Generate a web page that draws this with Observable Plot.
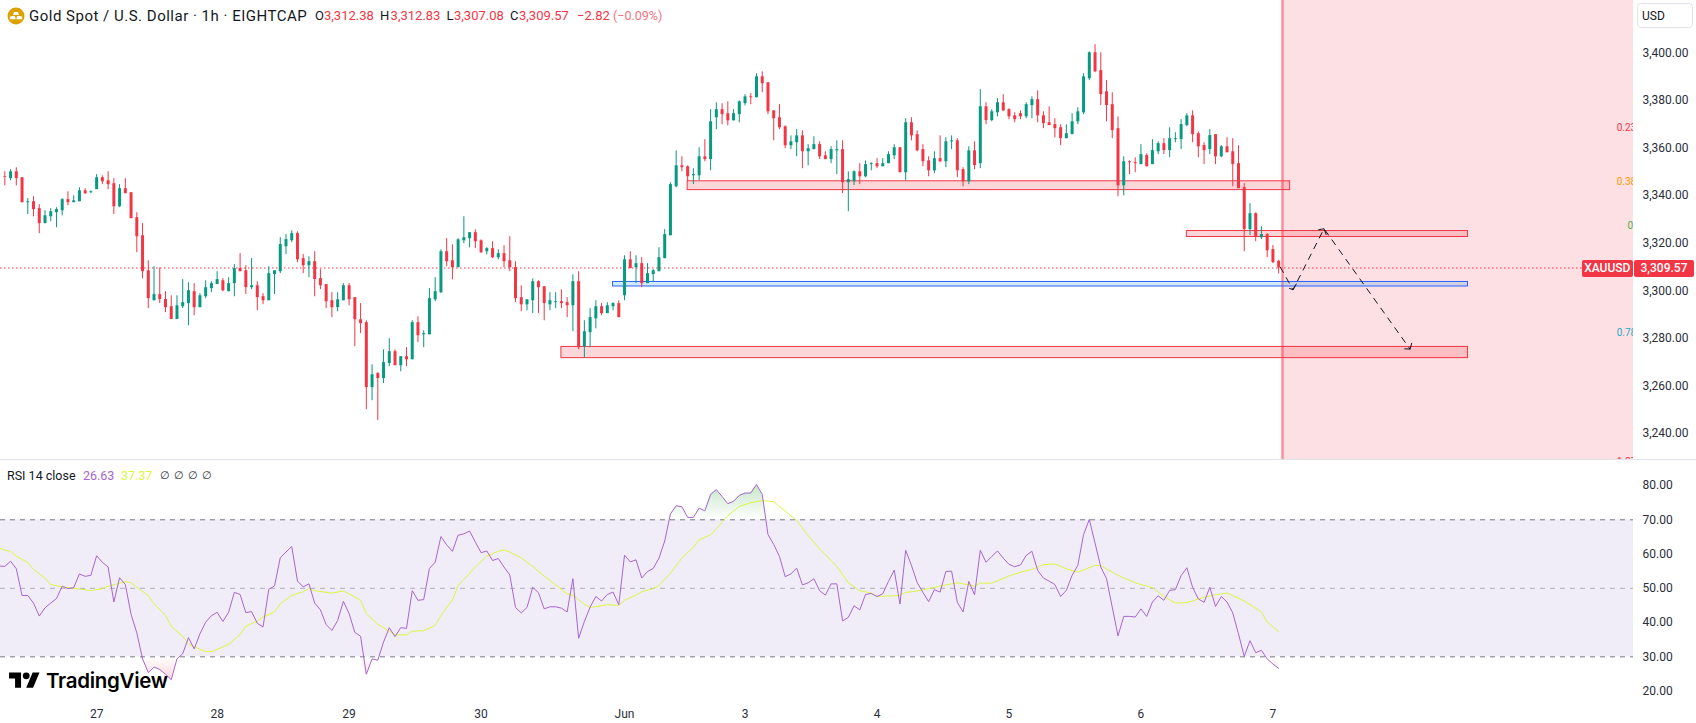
<!DOCTYPE html>
<html>
<head>
<meta charset="utf-8">
<script src="https://cdn.jsdelivr.net/npm/d3@7"></script>
<script src="https://cdn.jsdelivr.net/npm/@observablehq/plot@0.6"></script>
<style>
html,body{margin:0;padding:0;background:#fff}
#wrap{position:relative;width:1696px;height:723px;overflow:hidden;font-family:Roboto,sans-serif;color:#131722}
#wrap svg.plot,#wrap figure{display:block;margin:0}
.t{position:absolute;white-space:nowrap;line-height:16px}
.r{color:#f23645}
</style>
</head>
<body>
<div id="wrap"></div>
<script>
const GREEN = "#089981", RED = "#f23645";

const opens = [
3347.9,3347.1,3350.0,3347.5,3337.0,3337.4,3334.5,3328.2,3331.1,3332.8,
3333.6,3338.3,3337.0,3337.4,3342.0,3341.2,3342.5,3347.5,3346.2,3345.0,
3335.3,3342.9,3341.2,3330.7,3323.1,3308.4,3295.8,3298.4,3296.3,3293.3,
3287.9,3293.3,3294.6,3299.6,3292.9,3297.5,3300.9,3302.6,3304.2,3299.6,
3303.0,3309.3,3308.4,3301.3,3302.1,3297.5,3295.8,3306.8,3308.0,3318.5,
3321.0,3324.0,3313.5,3310.5,3312.2,3305.1,3302.6,3295.8,3292.9,3295.8,
3302.1,3297.1,3287.8,3286.6,3259.3,3265.2,3263.1,3269.4,3274.4,3268.5,
3272.3,3271.0,3286.6,3281.5,3281.5,3296.2,3299.2,3316.4,3312.6,3309.7,
3321.0,3321.9,3324.4,3321.0,3316.4,3317.7,3313.9,3315.6,3312.6,3309.7,
3297.1,3294.1,3295.8,3303.8,3301.7,3294.1,3295.0,3295.4,3295.0,3293.7,
3303.8,3276.5,3282.4,3288.2,3293.3,3290.4,3293.3,3294.6,3297.9,3313.0,
3309.7,3311.4,3303.0,3306.8,3308.0,3313.5,3323.1,3343.7,3352.5,3352.1,
3348.3,3348.3,3356.3,3355.1,3372.7,3376.1,3374.4,3371.4,3374.0,3378.6,
3381.5,3381.1,3389.9,3387.4,3375.6,3372.7,3368.9,3360.9,3362.2,3365.1,
3358.4,3359.3,3361.4,3356.7,3355.1,3358.8,3359.3,3345.4,3345.8,3350.0,
3347.9,3353.0,3353.4,3352.1,3353.4,3356.7,3360.1,3349.6,3370.6,3365.6,
3359.3,3354.6,3350.4,3355.5,3354.2,3362.6,3363.0,3350.9,3345.8,3358.8,
3353.4,3377.3,3371.5,3374.8,3379.0,3376.1,3373.5,3374.4,3373.1,3377.8,
3380.3,3373.5,3370.6,3369.8,3368.5,3363.9,3365.6,3371.0,3374.8,3389.1,
3400.0,3392.5,3383.6,3378.2,3368.1,3344.1,3354.2,3353.8,3353.0,3356.8,
3353.0,3358.4,3361.8,3358.9,3363.5,3363.5,3369.4,3373.5,3366.0,3361.0,
3359.3,3365.6,3356.3,3360.5,3358.4,3353.4,3343.3,3325.7,3332.4,3322.3,
3323.6,3317.3,3312.38];

const highs = [
3350.0,3350.9,3351.7,3347.5,3338.7,3339.5,3336.2,3333.6,3334.5,3334.9,
3338.7,3341.6,3339.9,3343.3,3342.9,3342.0,3348.8,3348.3,3350.0,3347.1,
3344.6,3347.1,3341.2,3332.8,3328.2,3312.6,3310.1,3309.6,3299.6,3297.9,
3297.9,3304.7,3303.4,3303.0,3298.8,3304.2,3303.8,3308.0,3305.1,3305.5,
3311.0,3315.6,3310.5,3313.5,3303.8,3298.8,3310.1,3308.4,3322.3,3323.6,
3325.2,3324.8,3315.2,3314.3,3316.4,3308.9,3302.6,3299.2,3299.2,3303.0,
3303.0,3297.1,3294.6,3287.4,3268.9,3265.6,3275.2,3279.9,3275.2,3272.3,
3276.1,3287.4,3289.1,3283.2,3300.9,3305.5,3317.2,3321.9,3319.3,3321.9,
3331.1,3324.4,3325.6,3321.4,3318.1,3320.6,3317.2,3318.9,3322.7,3312.2,
3302.1,3296.2,3305.0,3304.2,3301.7,3299.2,3299.2,3300.4,3297.1,3306.7,
3308.0,3287.4,3292.5,3295.8,3294.6,3295.0,3295.0,3295.8,3314.7,3316.4,
3314.7,3313.9,3311.4,3308.9,3318.1,3325.7,3345.4,3358.8,3356.3,3352.5,
3351.3,3360.1,3363.5,3376.1,3379.0,3378.6,3379.4,3376.1,3379.8,3382.4,
3382.8,3391.2,3392.0,3387.4,3375.6,3378.2,3369.3,3365.1,3367.7,3367.2,
3361.4,3364.7,3362.6,3358.4,3360.5,3363.0,3363.0,3350.0,3350.4,3353.4,
3354.6,3353.8,3355.5,3355.5,3358.4,3361.4,3360.1,3372.3,3372.7,3367.2,
3361.4,3356.3,3358.4,3365.1,3364.3,3365.1,3363.9,3351.7,3360.5,3362.6,
3384.5,3379.0,3376.1,3380.7,3382.4,3376.5,3374.8,3375.6,3379.0,3381.5,
3384.0,3375.2,3377.3,3372.3,3369.8,3369.8,3374.4,3376.9,3391.2,3400.4,
3403.4,3400.0,3388.3,3383.2,3373.1,3356.3,3354.6,3355.9,3361.4,3357.6,
3363.5,3362.6,3363.9,3368.5,3366.4,3371.9,3374.4,3375.6,3366.8,3362.2,
3367.7,3365.6,3361.0,3364.3,3363.9,3360.9,3345.0,3336.6,3332.8,3326.9,
3324.0,3319.0,3312.83];

const lows = [
3344.1,3346.2,3344.1,3337.0,3332.0,3331.1,3324.0,3328.2,3329.0,3326.5,
3331.5,3335.7,3337.0,3337.4,3340.4,3340.8,3342.5,3344.6,3342.5,3332.0,
3334.9,3340.8,3330.3,3316.0,3305.0,3292.5,3295.8,3294.6,3290.8,3287.9,
3287.9,3292.5,3285.3,3289.5,3292.9,3296.7,3299.2,3302.6,3299.6,3299.6,
3297.5,3308.0,3298.4,3300.5,3291.6,3294.2,3295.8,3298.4,3307.2,3315.2,
3320.2,3311.8,3307.2,3305.5,3297.5,3300.5,3292.5,3288.7,3291.2,3295.8,
3293.7,3276.5,3282.0,3250.0,3253.8,3245.4,3261.0,3268.1,3268.5,3266.0,
3268.1,3271.0,3278.2,3276.1,3281.5,3295.4,3298.8,3310.1,3304.6,3309.7,
3319.8,3318.0,3317.7,3315.6,3315.1,3313.5,3313.0,3309.7,3308.0,3295.0,
3291.2,3291.6,3290.4,3290.4,3287.4,3291.6,3292.5,3292.5,3288.7,3282.8,
3275.2,3271.9,3276.1,3284.0,3289.5,3290.4,3291.6,3288.7,3295.8,3309.3,
3303.0,3301.3,3303.0,3303.7,3308.0,3313.5,3323.1,3343.3,3350.0,3345.8,
3344.6,3346.2,3354.2,3350.4,3367.7,3369.8,3369.3,3371.4,3370.6,3377.7,
3378.2,3381.1,3383.2,3374.0,3363.0,3367.7,3359.7,3359.3,3356.3,3351.3,
3352.5,3359.3,3355.1,3355.1,3353.4,3348.8,3340.8,3333.2,3344.2,3344.6,
3347.5,3350.4,3351.3,3352.1,3353.4,3355.1,3349.6,3346.2,3363.0,3358.4,
3352.1,3347.9,3349.2,3353.8,3351.7,3359.3,3347.5,3343.7,3344.6,3350.9,
3351.3,3369.8,3371.0,3373.1,3375.2,3371.9,3370.6,3371.9,3372.3,3372.3,
3370.6,3368.1,3369.4,3364.3,3361.0,3363.9,3365.6,3369.8,3374.0,3388.3,
3391.6,3377.8,3371.0,3363.9,3339.5,3339.9,3348.8,3349.6,3353.0,3352.1,
3353.0,3357.2,3357.2,3355.9,3362.2,3359.3,3368.9,3362.2,3355.9,3353.0,
3357.2,3353.0,3355.9,3358.0,3343.7,3342.9,3316.4,3323.2,3320.6,3321.5,
3313.9,3311.4,3307.08];

const closes = [
3347.6,3350.0,3347.1,3337.0,3337.4,3334.1,3328.2,3331.5,3333.2,3334.1,
3338.3,3337.0,3337.8,3342.0,3340.8,3341.6,3347.5,3345.8,3344.6,3335.3,
3342.9,3340.8,3330.3,3322.7,3308.0,3296.7,3298.4,3296.3,3292.9,3287.9,
3293.7,3295.0,3300.0,3292.9,3297.9,3301.3,3303.0,3304.7,3300.0,3303.0,
3309.3,3308.0,3301.3,3302.1,3297.1,3295.8,3307.2,3308.4,3319.4,3321.5,
3324.0,3313.0,3310.5,3312.2,3304.7,3302.1,3295.4,3292.9,3296.2,3302.1,
3296.2,3287.8,3286.2,3259.3,3264.7,3263.1,3269.8,3274.4,3268.5,3272.3,
3271.0,3286.6,3281.1,3282.0,3296.7,3299.6,3316.4,3312.2,3309.7,3321.4,
3322.3,3324.4,3320.6,3316.0,3317.7,3313.9,3315.6,3312.2,3309.7,3296.7,
3294.1,3296.2,3303.8,3301.3,3294.6,3295.8,3295.4,3294.6,3293.7,3303.8,
3276.1,3282.8,3288.7,3293.3,3290.4,3293.7,3294.6,3288.7,3313.0,3309.3,
3311.4,3303.0,3307.2,3308.4,3313.9,3323.6,3344.6,3352.5,3351.7,3347.9,
3348.8,3356.3,3355.1,3371.0,3376.1,3374.0,3371.4,3374.4,3379.4,3381.5,
3381.1,3389.9,3387.0,3375.2,3372.3,3368.5,3360.9,3362.6,3365.1,3358.4,
3359.7,3361.4,3356.3,3355.1,3359.3,3359.3,3345.4,3346.7,3350.0,3347.9,
3353.0,3353.4,3352.1,3353.4,3357.2,3360.1,3349.6,3370.6,3365.1,3358.8,
3354.2,3350.4,3355.5,3354.2,3362.6,3363.0,3350.4,3345.8,3358.8,3352.6,
3377.3,3371.5,3375.2,3379.0,3375.6,3373.1,3371.9,3373.1,3378.2,3380.3,
3373.5,3370.2,3369.4,3368.1,3363.9,3366.0,3371.0,3375.2,3389.9,3400.0,
3392.0,3382.4,3377.8,3367.3,3344.1,3354.2,3353.8,3353.4,3357.2,3352.1,
3358.9,3361.8,3358.9,3363.9,3363.9,3369.8,3373.5,3365.6,3360.5,3358.9,
3365.2,3356.3,3360.5,3358.0,3353.0,3342.9,3325.7,3332.4,3322.7,3323.6,
3316.8,3311.8,3309.57];

// RSI readings, first value belongs to the bar just left of the pane
const rsiValues = [
56.5,56.4,57.9,55.7,47.9,47.9,45.7,41.9,44.3,45.7,47.0,50.6,49.9,50.2,54.2,53.5,53.8,59.5,57.6,56.2,
46.0,53.1,51.1,42.4,37.0,29.4,25.4,27.0,26.3,24.9,23.3,29.4,30.9,35.6,32.3,36.7,40.1,42.0,43.0,40.3,
43.0,48.8,48.2,42.9,43.2,39.8,38.7,49.7,50.7,58.9,60.6,62.2,52.1,50.4,51.3,45.7,43.7,39.4,37.7,40.6,
46.2,42.6,37.1,36.0,24.9,29.4,29.0,34.3,38.5,35.9,38.5,38.3,49.3,46.5,46.7,55.8,57.6,65.1,62.7,60.8,
65.5,65.9,66.7,63.5,60.4,60.9,58.1,58.7,56.2,53.9,44.4,42.8,44.4,50.3,48.7,44.0,44.6,44.6,44.2,43.1,
52.8,35.4,40.3,44.5,47.6,46.3,48.2,48.9,45.2,59.7,57.7,58.3,53.0,54.9,55.8,58.8,63.8,71.7,74.1,73.8,
70.7,70.7,73.4,72.6,77.4,78.8,76.8,74.7,75.4,77.1,77.8,77.8,80.3,77.4,65.7,62.8,59.3,53.4,54.2,55.9,
51.0,51.6,52.8,49.3,48.0,51.3,51.3,40.5,41.5,44.9,43.7,48.2,48.5,47.6,48.4,52.0,55.3,45.4,61.1,56.7,
51.7,48.8,46.1,49.6,48.9,54.9,55.0,45.9,43.1,52.0,48.1,61.1,57.6,59.3,60.9,58.8,57.0,56.3,56.8,59.6,
60.8,55.2,53.0,52.1,51.1,47.6,49.4,53.8,56.7,65.7,70.1,63.2,56.2,52.8,44.5,36.1,41.8,41.8,41.6,44.0,
41.8,46.0,47.8,46.5,49.4,49.6,53.7,56.0,50.3,46.9,45.9,50.3,44.7,47.6,46.0,42.8,36.7,30.1,34.7,31.2,
31.9,29.4,27.9,26.63];

// RSI moving average at these bars
const maBars = [-1,0,1,2,4,5,7,8,10,12,14,15,17,18,20,21,22,23,25,26,28,29,31,32,34,35,36,37,39,41,42,44,45,47,48,50,52,53,54,57,59,60,62,63,65,67,68,70,71,73,75,76,78,79,82,84,86,87,88,90,91,92,94,96,98,99,101,102,105,107,108,110,111,113,114,116,118,120,121,123,124,126,128,130,132,134,135,138,140,142,145,147,149,151,152,156,157,159,161,164,166,168,169,170,172,175,177,179,181,183,185,187,190,191,194,197,200,202,204,206,209,211,213,216,219,220,222];
const maValues = [61.8,61.1,60.8,59.4,57.5,55.5,53.0,51.1,50.4,50.0,49.6,49.3,49.9,50.6,51.5,52.0,51.6,50.3,47.9,45.5,42.1,38.9,36.0,33.8,32.2,31.5,31.5,32.2,33.6,36.5,38.9,40.4,41.6,43.1,45.5,47.9,49.0,49.9,49.3,48.6,49.2,48.4,46.5,42.6,39.5,37.5,36.4,36.4,37.5,37.6,39.2,42.1,46.5,50.8,56.2,59.4,60.8,61.2,60.6,58.9,57.6,56.4,53.6,51.0,48.4,48.0,45.3,44.4,45.2,45.0,46.5,48.0,49.0,49.9,50.8,54.4,58.8,62.0,64.2,65.6,67.4,71.2,73.9,75.0,75.6,75.3,73.9,69.8,65.4,61.5,56.4,51.6,49.3,48.6,47.6,47.9,48.8,49.2,49.9,51.0,51.6,51.0,50.6,51.5,51.5,53.6,54.7,55.5,56.9,57.1,55.7,54.7,56.7,56.6,53.8,51.6,50.2,47.6,45.7,45.8,47.4,48.1,48.6,46.3,43.1,40.1,37.37];

// Bar index where each date label sits on the time axis
const dayBars = [16,37,60,83,108,129,152,175,198,221];
const dayLabels = ["27","28","29","30","Jun","3","4","5","6","7"];

const priceTicks = [3240,3260,3280,3300,3320,3340,3360,3380,3400];
const rsiTicks = [20,30,40,50,60,70,80];
const lastClose = 3309.57;

// Zones drawn on the chart: bar range and price range
const zoneStart = [119,206,97];
const zoneEnd = [224,255,255];
const zoneTop = [3346.0,3325.1,3276.4];
const zoneBottom = [3342.3,3322.6,3271.7];
const blueStart = [106], blueEnd = [255], blueTop = [3303.7], blueBottom = [3301.8];

const forecastStart = 222.67;

// Projected dashed path and its arrow heads
const pathBars = [222.3,224.5,229.9,244.9];
const pathPrices = [3309.9,3300.4,3326.05,3275.5];
const tipBars = [224.5,224.5,229.9,229.9,244.9,244.9];
const tipPrices = [3300.4,3300.4,3326.05,3326.05,3275.5,3275.5];
const wingBars = [223.8,225.1,228.9,230.3,243.9,245.2];
const wingPrices = [3301.1,3303.0,3325.6,3323.5,3275.6,3278.1];

// Fibonacci labels cut off by the pane edge
const fibLabels = ["0.236","0.382","0","0.786","1.272"];
const fibPrices = [3368.5,3345.6,3327.1,3282.4,3228.0];
const fibBars = [280.9,280.9,282.8,280.9,280.9];
const fibColors = ["#f23645","#ff9800","#4caf50","#2aa9c4","#f23645"];

const candles = opens.map((o,i)=>({i,o,h:highs[i],l:lows[i],c:closes[i],col:closes[i]>=o?GREEN:RED}));
const idx = a => a.map((_,k)=>k);
const xDomain = [-0.755,283.84];
const font = {fontFamily:"Roboto, sans-serif",fontSize:"12px",background:"transparent",color:"#2a2e39",display:"block"};

const main = Plot.plot({
  width:1696,height:460,marginLeft:0,marginRight:63,marginTop:0,marginBottom:1,style:font,
  x:{domain:xDomain,axis:null},
  y:{domain:[3229.1,3421.97],axis:null},
  marks:[
    Plot.rect([{a:forecastStart,b:xDomain[1]}],{x1:"a",x2:"b",fill:"#fde0e3"}),
    Plot.ruleX([forecastStart],{stroke:"#f98d96",strokeWidth:2.4}),
    Plot.rect(idx(zoneStart),{x1:k=>zoneStart[k],x2:k=>zoneEnd[k],y1:k=>zoneTop[k],y2:k=>zoneBottom[k],fill:"#f23645",fillOpacity:0.2,stroke:"#f23645",strokeWidth:1}),
    Plot.rect(idx(blueStart),{x1:k=>blueStart[k],x2:k=>blueEnd[k],y1:k=>blueTop[k],y2:k=>blueBottom[k],fill:"#2196f3",fillOpacity:0.2,stroke:"#2962ff",strokeWidth:1}),
    Plot.ruleY([lastClose],{x1:xDomain[0],x2:280.9,stroke:RED,strokeWidth:1,strokeDasharray:"1.5 2.5"}),
    Plot.ruleX(candles,{x:"i",y1:"l",y2:"h",stroke:"col",strokeWidth:1}),
    Plot.ruleX(candles,{x:"i",y1:"o",y2:"c",stroke:"col",strokeWidth:3}),
    Plot.line(idx(pathBars),{x:k=>pathBars[k],y:k=>pathPrices[k],stroke:"#131722",strokeWidth:1,strokeDasharray:"6 6"}),
    Plot.link(idx(tipBars),{x1:k=>tipBars[k],y1:k=>tipPrices[k],x2:k=>wingBars[k],y2:k=>wingPrices[k],stroke:"#131722",strokeWidth:1}),
    Plot.text(idx(fibLabels),{x:k=>fibBars[k],y:k=>fibPrices[k],text:k=>fibLabels[k],fill:k=>fibColors[k],textAnchor:"start",fontSize:10,clip:true}),
    Plot.axisY({anchor:"right",ticks:priceTicks,tickSize:0,tickPadding:9,tickFormat:d3.format(",.2f"),label:null,fill:"#2a2e39"})
  ]
});

const rsiRows = rsiValues.map((v,k)=>({i:k-1,v}));
const maRows = maBars.map((b,k)=>({i:b,v:maValues[k]}));

const gradients = () => {
  const ns = "http://www.w3.org/2000/svg";
  const defs = document.createElementNS(ns,"defs");
  defs.innerHTML = `<linearGradient id="obGrad" x1="0" y1="0" x2="0" y2="1"><stop offset="0" stop-color="#4caf50" stop-opacity="0.32"/><stop offset="1" stop-color="#4caf50" stop-opacity="0"/></linearGradient>
  <linearGradient id="osGrad" x1="0" y1="0" x2="0" y2="1"><stop offset="0" stop-color="#f23645" stop-opacity="0"/><stop offset="1" stop-color="#f23645" stop-opacity="0.2"/></linearGradient>`;
  return defs;
};

const rsi = Plot.plot({
  width:1696,height:263,marginLeft:0,marginRight:63,marginTop:0,marginBottom:30,style:font,
  x:{domain:xDomain,axis:null},
  y:{domain:[19.29,87.31],axis:null},
  marks:[
    gradients,
    Plot.rect([{a:70,b:30}],{y1:"a",y2:"b",fill:"#f0edf9"}),
    Plot.areaY(rsiRows,{x:"i",y1:()=>70,y2:d=>Math.max(d.v,70),fill:"url(#obGrad)",clip:true}),
    Plot.areaY(rsiRows,{x:"i",y1:()=>30,y2:d=>Math.min(d.v,30),fill:"url(#osGrad)",clip:true}),
    Plot.ruleY([70,30],{stroke:"#787b86",strokeWidth:1,strokeDasharray:"5 5"}),
    Plot.ruleY([50],{stroke:"#787b86",strokeOpacity:0.55,strokeWidth:1,strokeDasharray:"5 5"}),
    Plot.line(maRows,{x:"i",y:"v",stroke:"#dcf63f",strokeWidth:1,clip:true}),
    Plot.line(rsiRows,{x:"i",y:"v",stroke:"#a765cf",strokeWidth:1,clip:true}),
    Plot.axisY({anchor:"right",ticks:rsiTicks,tickSize:0,tickPadding:9,tickFormat:d3.format(".2f"),label:null,fill:"#2a2e39"}),
    Plot.axisX({anchor:"bottom",ticks:dayBars,tickSize:0,tickPadding:16,tickFormat:b=>dayLabels[dayBars.indexOf(b)],label:null,fill:"#2a2e39"})
  ]
});

const wrap = document.getElementById("wrap");
wrap.append(main,rsi);

function label(text,left,top,opts={}){
  const s = document.createElement("span");
  s.className = "t";
  s.textContent = text;
  Object.assign(s.style,{left:left+"px",top:top+"px",fontSize:(opts.size||13)+"px",color:opts.color||"#131722"},opts.css||{});
  wrap.append(s);
  return s;
}

// Separator under the price pane
const sep = document.createElement("div");
Object.assign(sep.style,{position:"absolute",left:0,top:"459px",width:"1696px",height:"1px",background:"#e0e3eb"});
wrap.append(sep);

// Symbol badge
const badge = document.createElementNS("http://www.w3.org/2000/svg","svg");
badge.setAttribute("width","18");badge.setAttribute("height","18");
badge.style.cssText="position:absolute;left:7px;top:7px";
badge.innerHTML='<circle cx="9" cy="9" r="8.5" fill="#dda200"/><path d="M7 5h4l1 3H6zM3.6 9h4.2l1 3.2H2.6zM10.2 9h4.2l1 3.2H9.2z" fill="#fff"/>';
wrap.append(badge);

// Legend row
label("Gold Spot / U.S. Dollar · 1h · EIGHTCAP",29,8,{size:15,css:{letterSpacing:"0.5px"}});
[["O",315],["H",380],["L",446.4],["C",510]].forEach(([t,x])=>label(t,x,8));
[["3,312.38",324],["3,312.83",390.6],["3,307.08",454],["3,309.57",519],["−2.82",577]].forEach(([t,x])=>label(t,x,8,{color:RED}));
label("(−0.09%)",613,8,{size:12.5,color:"#f5737e"});

// Scale button
const btn = document.createElement("div");
Object.assign(btn.style,{position:"absolute",left:"1637px",top:"3px",width:"56px",height:"25px",border:"1px solid #e0e3eb",borderRadius:"4px",boxSizing:"border-box"});
wrap.append(btn);
label("USD",1642,8,{size:12});

// Last price tags
const tag = (text,left,width) => {
  const d = document.createElement("div");
  Object.assign(d.style,{position:"absolute",left:left+"px",top:"260px",width:width+"px",height:"17px",lineHeight:"17px",background:RED,color:"#fff",fontSize:"12px",textAlign:"center",borderRadius:"2px",fontWeight:"500"});
  d.textContent = text;
  wrap.append(d);
};
tag("XAUUSD",1582,50.5);
tag("3,309.57",1634,60);

// RSI legend
label("RSI 14 close",7,468,{size:12.5});
label("26.63",83,468,{size:12.5,color:"#a765cf"});
label("37.37",121,468,{size:12.5,color:"#dcf63f"});
[160,174,188.4,201.8].forEach(x=>label("∅",x,468,{size:11,color:"#2a2e39"}));

// Watermark
const logo = document.createElementNS("http://www.w3.org/2000/svg","svg");
logo.setAttribute("width","31");logo.setAttribute("height","24");logo.setAttribute("viewBox","0 0 36 28");
logo.style.cssText="position:absolute;left:9px;top:669px";
logo.innerHTML='<path d="M14 22H7V11H0V4h14v18zM28 22h-8l7.5-18h8L28 22z" fill="#000"/><circle cx="20" cy="8" r="4" fill="#000"/>';
wrap.append(logo);
label("TradingView",46,671,{size:20.5,color:"#000",css:{fontFamily:"Inter, Roboto, sans-serif",fontWeight:"600",lineHeight:"20px",letterSpacing:"-0.3px"}});
</script>
</body>
</html>
